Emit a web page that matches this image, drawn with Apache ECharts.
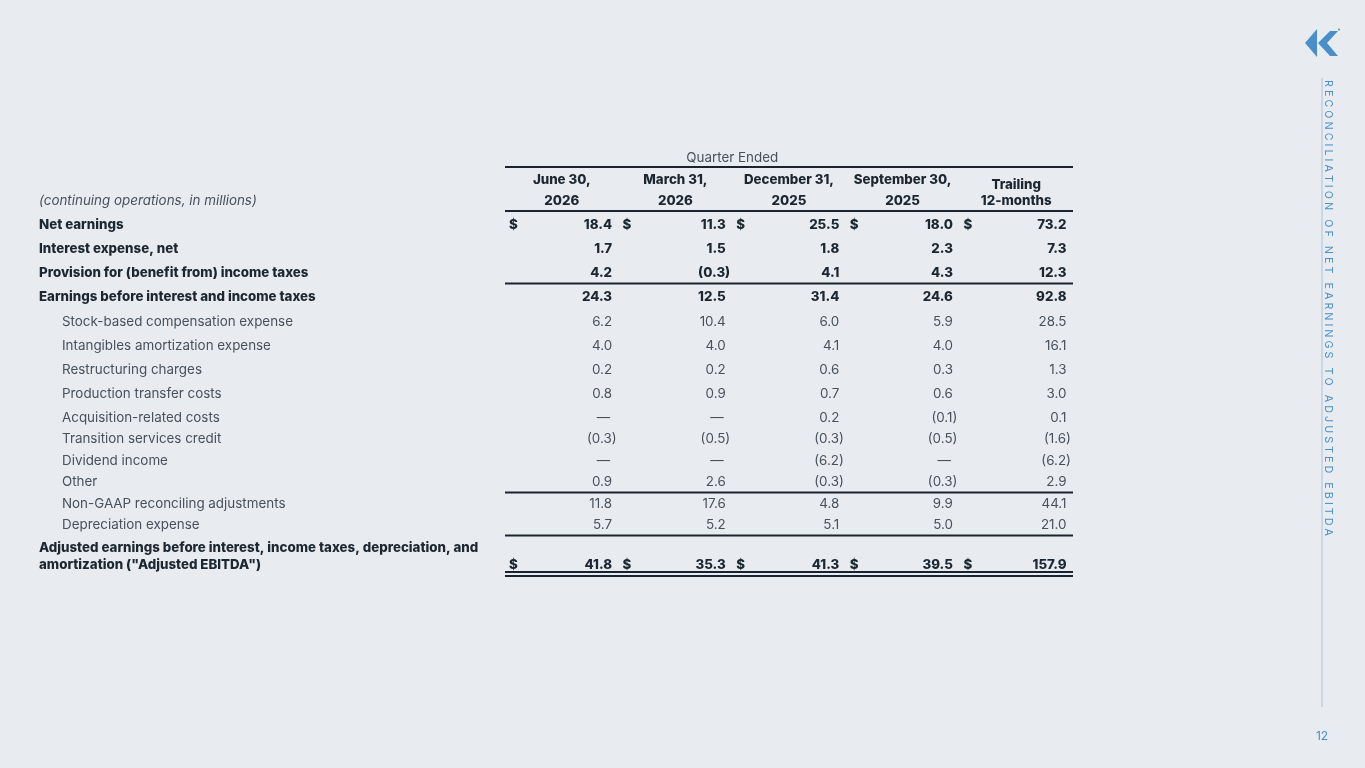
<!DOCTYPE html>
<html><head><meta charset="utf-8">
<script src="https://cdn.jsdelivr.net/npm/echarts@6/dist/echarts.min.js"></script>
<style>html,body{margin:0;padding:0;background:#e8ecf1;}#c{width:1365px;height:768px;}</style>
</head><body><div id="c"></div>
<script>
// ---------- DATA ----------
const rowLabels = [
  'Net earnings',
  'Interest expense, net',
  'Provision for (benefit from) income taxes',
  'Earnings before interest and income taxes',
  'Stock-based compensation expense',
  'Intangibles amortization expense',
  'Restructuring charges',
  'Production transfer costs',
  'Acquisition-related costs',
  'Transition services credit',
  'Dividend income',
  'Other',
  'Non-GAAP reconciling adjustments',
  'Depreciation expense',
  'Adjusted earnings before interest, income taxes, depreciation, and\namortization ("Adjusted EBITDA")'
];
const columnHeads = ['June 30,\n2026', 'March 31,\n2026', 'December 31,\n2025', 'September 30,\n2025', 'Trailing\n12-months'];
const groupTitle = 'Quarter Ended';
const unitsNote = '(continuing operations, in millions)';
const jun2026 = [18.4, 1.7, 4.2, 24.3, 6.2, 4.0, 0.2, 0.8, null, -0.3, null, 0.9, 11.8, 5.7, 41.8];
const mar2026 = [11.3, 1.5, -0.3, 12.5, 10.4, 4.0, 0.2, 0.9, null, -0.5, null, 2.6, 17.6, 5.2, 35.3];
const dec2025 = [25.5, 1.8, 4.1, 31.4, 6.0, 4.1, 0.6, 0.7, 0.2, -0.3, -6.2, -0.3, 4.8, 5.1, 41.3];
const sep2025 = [18.0, 2.3, 4.3, 24.6, 5.9, 4.0, 0.3, 0.6, -0.1, -0.5, null, -0.3, 9.9, 5.0, 39.5];
const trailing12 = [73.2, 7.3, 12.3, 92.8, 28.5, 16.1, 1.3, 3.0, 0.1, -1.6, -6.2, 2.9, 44.1, 21.0, 157.9];
const dollarRows = [0, 14];
const sideTitle = 'RECONCILIATION OF NET EARNINGS TO ADJUSTED EBITDA';
const pageNumber = '12';

// ---------- LAYOUT / STYLE ----------
const columns = [jun2026, mar2026, dec2025, sep2025, trailing12];
const boldRows = [0, 1, 2, 3, 14];
const rulesAfterRows = [2, 11, 13];
const FIRST_ROW_Y = 225;
const rowGaps = [24, 24, 24, 25, 24, 24, 24, 24, 21, 22, 21, 22, 21, 40];
const rowY = [FIRST_ROW_Y];
rowGaps.forEach((g, i) => rowY.push(rowY[i] + g));
const HEAD_Y = 201, TITLE_Y = 158;
const LABEL_X = 39, TABLE_L = 505, TABLE_R = 1073;
const NCOL = columns.length;
const COLW = (TABLE_R - TABLE_L) / NCOL;
const LABEL_SPAN = (TABLE_L - LABEL_X) / COLW;
const FONT = 'Inter, "Noto Sans", sans-serif';
const DARK = '#1c2731', GREY = '#48505a', BLUE = '#4a8fca';
const BOLD = '800 13.3px ' + FONT, REG = '400 13.4px ' + FONT;

function fmt(v) {
  if (v === null || v === undefined) return '\u2014';
  if (v < 0) return '(' + Math.abs(v).toFixed(1) + ')';
  return v.toFixed(1);
}

const cellData = [];
rowLabels.forEach((_, r) => { for (let c = 0; c < NCOL; c++) cellData.push([c, rowY[r], r, c]); });
const labelData = rowLabels.map((_, r) => [-LABEL_SPAN, rowY[r], r]);
const headData = columnHeads.map((_, c) => [c, HEAD_Y, c]);
const ruleData = rulesAfterRows.map(r => [0, rowY[r] + 10.5, 1]);
ruleData.push([0, HEAD_Y + 10, 1]);
ruleData.push([0, TITLE_Y + 9, 1]);
ruleData.push([0, rowY[14] + 7, 1]);
ruleData.push([0, rowY[14] + 11, 1]);

const chart = echarts.init(document.getElementById('c'));
chart.setOption({
  backgroundColor: '#e8ecf1',
  animation: false,
  grid: { left: LABEL_X, right: 1365 - TABLE_R, top: 0, bottom: 0 },
  xAxis: { type: 'value', min: -LABEL_SPAN, max: NCOL, show: false },
  yAxis: { type: 'value', min: 0, max: 768, inverse: true, show: false },
  graphic: [
    { type: 'polygon', shape: { points: [[1305, 43], [1317, 29], [1317, 57]] }, style: { fill: BLUE } },
    { type: 'polygon', shape: { points: [[1318, 43], [1330, 31], [1338, 31], [1327, 43], [1338, 56], [1330, 56]] }, style: { fill: BLUE } },
    { type: 'circle', shape: { cx: 1339, cy: 29.5, r: 1 }, style: { fill: BLUE } },
    { type: 'line', shape: { x1: 1322, y1: 78, x2: 1322, y2: 707 }, style: { stroke: '#aac0d8', lineWidth: 1 } },
    { type: 'text', x: 1328.5, y: 80, rotation: -Math.PI / 2,
      style: { text: sideTitle.split('').join(' '), fill: BLUE, font: '400 10.75px ' + FONT, align: 'left', verticalAlign: 'middle' } },
    { type: 'text', x: 1322, y: 736, style: { text: pageNumber, fill: BLUE, font: '400 12px ' + FONT, align: 'center', verticalAlign: 'middle' } }
  ],
  series: [
    { type: 'custom', data: ruleData, renderItem: (p, api) => {
        const a = api.coord([0, api.value(1)]), b = api.coord([NCOL, api.value(1)]);
        return { type: 'line', shape: { x1: a[0], y1: a[1], x2: b[0], y2: b[1] }, style: { stroke: '#1a2430', lineWidth: 2 } };
      } },
    { type: 'custom', data: [[0, TITLE_Y]], renderItem: (p, api) => {
        const a = api.coord([0, api.value(1)]), b = api.coord([4, api.value(1)]);
        return { type: 'text', x: (a[0] + b[0]) / 2, y: a[1], style: { text: groupTitle, fill: GREY, font: REG, align: 'center', verticalAlign: 'middle' } };
      } },
    { type: 'custom', data: [[-LABEL_SPAN, HEAD_Y]], renderItem: (p, api) => {
        const a = api.coord([api.value(0), api.value(1)]);
        return { type: 'text', x: a[0], y: a[1], style: { text: unitsNote, fill: GREY, font: 'italic ' + REG, align: 'left', verticalAlign: 'middle' } };
      } },
    { type: 'custom', data: headData, renderItem: (p, api) => {
        const c = api.value(2);
        const a = api.coord([c + 0.5, api.value(1)]);
        const last = c === NCOL - 1;
        const lh = last ? 16 : 21;
        return { type: 'text', x: a[0], y: a[1] - lh / 2, style: { text: columnHeads[c], fill: DARK, font: BOLD, lineHeight: lh, align: 'center', verticalAlign: 'middle' } };
      } },
    { type: 'custom', data: labelData, renderItem: (p, api) => {
        const r = api.value(2);
        const a = api.coord([api.value(0), api.value(1)]);
        const bold = boldRows.includes(r);
        const multi = rowLabels[r].includes('\n');
        return { type: 'text', x: a[0] + (bold ? 0 : 23), y: multi ? a[1] - 8.5 : a[1],
          style: { text: rowLabels[r], fill: bold ? DARK : GREY, font: bold ? BOLD : REG, lineHeight: 17, align: 'left', verticalAlign: 'middle' } };
      } },
    { type: 'custom', data: cellData, renderItem: (p, api) => {
        const r = api.value(2), c = api.value(3);
        const v = columns[c][r];
        const bold = boldRows.includes(r);
        const font = bold ? BOLD : REG;
        const fill = bold ? DARK : GREY;
        const L = api.coord([c, api.value(1)]), R = api.coord([c + 1, api.value(1)]);
        let xr = R[0] - 6.5;
        if (v === null) xr -= 2; else if (v < 0) xr += 4.5;
        const kids = [{ type: 'text', x: xr, y: R[1], style: { text: fmt(v), fill, font, align: 'right', verticalAlign: 'middle' } }];
        if (dollarRows.includes(r)) kids.push({ type: 'text', x: L[0] + 4, y: L[1], style: { text: '$', fill, font, align: 'left', verticalAlign: 'middle' } });
        return { type: 'group', children: kids };
      } }
  ]
});
</script></body></html>
